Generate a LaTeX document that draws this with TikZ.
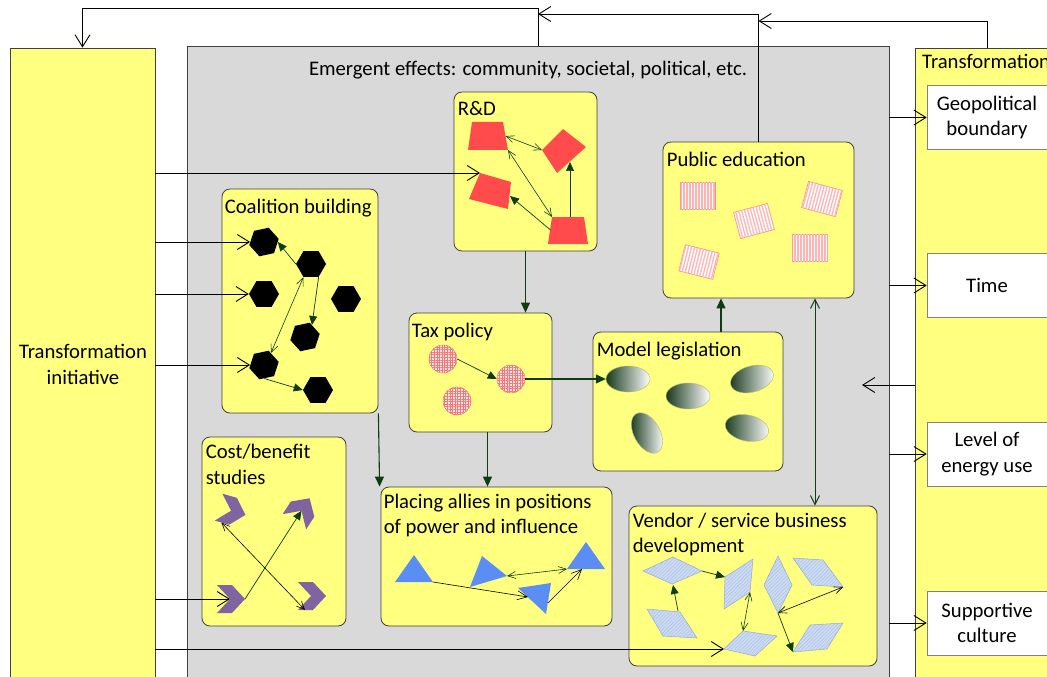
\documentclass[tikz,border=0pt]{standalone}
\usepackage{fontspec}
\setmainfont{Carlito}
\usetikzlibrary{arrows.meta,shapes.geometric,patterns.meta}

\definecolor{boxyellow}{HTML}{FFFF80}
\definecolor{panelgrey}{HTML}{D9D9D9}
\definecolor{edge}{HTML}{404040}
\definecolor{linkgreen}{HTML}{0E3D14}
\definecolor{rdred}{HTML}{FF4B4B}
\definecolor{chevpurple}{HTML}{8064A2}
\definecolor{triblue}{HTML}{5A8EF5}
\definecolor{rhombfill}{HTML}{CCDAF2}
\definecolor{rhombhatch}{HTML}{A9BFE6}
\definecolor{rhombedge}{HTML}{8FA8D6}
\definecolor{gridpink}{HTML}{FFE4E4}
\definecolor{gridred}{HTML}{F07878}
\definecolor{stripepink}{HTML}{FFB4B4}
\definecolor{stripeedge}{HTML}{FF8C8C}
\definecolor{ovaldark}{HTML}{17391C}
\definecolor{ovaledge}{HTML}{B8B870}

\newcommand{\labelfont}{\fontsize{20.7bp}{25.5bp}\selectfont}
\newcommand{\outfont}{\fontsize{20.7bp}{25.5bp}\selectfont}

\begin{document}
\begin{tikzpicture}[x=1bp,y=-1bp,
  column/.style={draw=edge, line width=0.8bp, fill=boxyellow, minimum width=145bp, minimum height=652bp, inner sep=0pt},
  panel/.style={draw=edge, line width=0.8bp, fill=panelgrey, minimum width=702bp, minimum height=654bp, inner sep=0pt},
  ibox/.style={draw=edge, line width=0.8bp, fill=boxyellow, rounded corners=8bp, inner sep=0pt},
  boxtitle/.style={anchor=north west, inner sep=0pt, align=left, font=\labelfont, execute at begin node=\strut},
  outcome/.style={draw=gray, line width=0.6bp, fill=white, minimum width=120bp, minimum height=64bp, align=center, font=\outfont, inner sep=0pt},
  bigopen/.style={draw=black, line width=0.9bp, -{Straight Barb[length=12bp,width=15bp]}},
  kopen/.style={draw=black, line width=0.6bp, -{Straight Barb[length=10bp,width=9bp]}},
  kboth/.style={draw=black, line width=0.6bp, {Straight Barb[length=8bp,width=7bp]}-{Straight Barb[length=8bp,width=7bp]}},
  gfill/.style={draw=linkgreen, line width=0.7bp, -{Triangle[length=9bp,width=8bp]}},
  gboth/.style={draw=linkgreen, line width=0.6bp, {Straight Barb[length=8bp,width=7bp]}-{Straight Barb[length=8bp,width=7bp]}},
  boxlink/.style={draw=linkgreen, line width=1.1bp, -{Triangle[length=10bp,width=9bp]}},
  boxboth/.style={draw=linkgreen, line width=1bp, {Straight Barb[length=9bp,width=9bp]}-{Straight Barb[length=9bp,width=9bp]}},
  hex/.style={regular polygon, regular polygon sides=6, minimum size=30bp, fill=black, inner sep=0pt},
  disc/.style={circle, minimum size=28bp, inner sep=0pt, draw=gridred, line width=0.5bp, fill=gridpink,
    postaction={pattern={Hatch[distance=2.6bp,line width=0.5bp]}, pattern color=gridred}},
  oval/.style={ellipse, minimum width=44bp, minimum height=26bp, inner sep=0pt, draw=ovaledge, line width=0.4bp,
    left color=ovaldark, right color=white},
  sheet/.style={rectangle, minimum width=35bp, minimum height=27bp, inner sep=0pt, draw=stripeedge, line width=0.7bp,
    fill=white, rotate=#1, postaction={pattern={Lines[angle=90+#1,distance=3bp,line width=1.3bp]}, pattern color=stripepink}},
  sheet/.default=0,
  tri/.style={fill=triblue},
  rhomb/.style={fill=rhombfill, draw=rhombedge, line width=0.5bp,
    postaction={pattern={Lines[angle=45,distance=2.5bp,line width=0.4bp]}, pattern color=rhombhatch}},
  chev/.pic={
    \fill[chevpurple] (-14,-14) -- (1,-14) -- (14,0) -- (1,14) -- (-14,14) -- (-1,0) -- cycle;
    \coordinate (-tip) at (14,0);
    \coordinate (-notch) at (-1,0);
    \coordinate (-foot) at (-7,14);
  }
]
\useasboundingbox (0,0) rectangle (1047,677);
\clip (0,0) rectangle (1047,677);
\fill[white] (0,0) rectangle (1047,677);

% ---- outer frame: initiative, emergent-effects panel, transformation column
\node[column] (init) at (82.5,374) {};
\node[panel] (grey) at (538,373) {};
\node[column] (trans) at (987.5,374) {};

\node[font=\labelfont, align=center, anchor=north, inner sep=0pt, execute at begin node=\strut]
  (inittext) at (83,344) {Transformation\\initiative};
\node[font=\labelfont, anchor=base, inner sep=0pt] (greytext) at (528,76)
  {Emergent effects: community, societal, political, etc.};
\node[font=\labelfont, anchor=base west, inner sep=0pt] (transtext) at (922,69) {Transformation};

\node[outcome] (geo) at (987,117.5) {Geopolitical\\boundary};
\node[outcome] (time) at (987,285.5) {Time};
\node[outcome] (energy) at (987,454) {Level of\\energy use};
\node[outcome] (culture) at (987,623) {Supportive\\culture};

% ---- activity boxes
\node[ibox, minimum width=143bp, minimum height=159bp] (rd) at (525.5,171.5) {};
\node[ibox, minimum width=156bp, minimum height=224bp] (coal) at (300,301) {};
\node[ibox, minimum width=143bp, minimum height=119bp] (tax) at (480.5,372.5) {};
\node[ibox, minimum width=190bp, minimum height=139bp] (legis) at (688,401.5) {};
\node[ibox, minimum width=191bp, minimum height=156bp] (pubed) at (758.5,220) {};
\node[ibox, minimum width=144bp, minimum height=189bp] (cost) at (274,531.5) {};
\node[ibox, minimum width=231bp, minimum height=139bp] (allies) at (496.5,556.5) {};
\node[ibox, minimum width=248bp, minimum height=160bp] (vendor) at (753,586) {};

\node[boxtitle] (rdT) at ([shift={(4,6)}]rd.north west) {R\&D};
\node[boxtitle] (coalT) at ([shift={(3,6.5)}]coal.north west) {Coalition building};
\node[boxtitle] (taxT) at ([shift={(3,6.5)}]tax.north west) {Tax policy};
\node[boxtitle] (legisT) at ([shift={(4,6.5)}]legis.north west) {Model legislation};
\node[boxtitle] (pubedT) at ([shift={(4,6.5)}]pubed.north west) {Public education};
\node[boxtitle] (costT) at ([shift={(4,7.5)}]cost.north west) {Cost/benefit\\studies};
\node[boxtitle] (alliesT) at ([shift={(3,7)}]allies.north west) {Placing allies in positions\\of power and influence};
\node[boxtitle] (vendorT) at ([shift={(4,7)}]vendor.north west) {Vendor / service business\\development};

% ---- R&D shapes
\fill[rdred] (472,122) -- (503,122) -- (508,150) coordinate (rdAse) -- (468,150) -- cycle;
\coordinate (rdAe) at (505.5,136);
\fill[rdred] (563,129) -- (586,147) -- (557,173) -- (542,150) coordinate (rdBw) -- cycle;
\coordinate (rdBs) at (570,162);
\fill[rdred] (480,173) coordinate (rdCnw) -- (511,182) -- (508,209) -- (469,199) -- cycle;
\coordinate (rdCe) at (510,196);
\fill[rdred] (552,217) coordinate (rdDnw) -- (584,217) -- (588,244) -- (548,244) -- cycle;
\coordinate (rdDn) at (570,217);
\coordinate (rdDw) at (550.5,230);
\draw[gboth] (rdAe) -- (rdBw);
\draw[gboth] (rdAse) -- (rdDnw);
\draw[gfill] (rdDw) -- (rdCe);
\draw[gfill] (rdDn) -- (rdBs);

% ---- coalition hexagons
\node[hex, shape border rotate=12] (h1) at (264,242) {};
\node[hex] (h2) at (311,264) {};
\node[hex] (h3) at (264,294) {};
\node[hex] (h4) at (346,299) {};
\node[hex, shape border rotate=12] (h5) at (305,337) {};
\node[hex, shape border rotate=12] (h6) at (264,365) {};
\node[hex] (h7) at (318,390) {};
\draw[gfill] (h2.west) -- (h1.east);
\draw[gboth] (h2.240) -- (h6.60);
\draw[gfill] (h2.-60) -- (h5.60);
\draw[gfill] (h6.south) -- (h7.west);

% ---- tax policy discs
\node[disc] (c1) at (443,359) {};
\node[disc] (c2) at (511,379) {};
\node[disc] (c3) at (457,401) {};
\draw[gfill] (c1.east) -- (c2.west);

% ---- model legislation ovals
\node[oval] (e1) at (628,379) {};
\node[oval] (e2) at (688,396) {};
\node[oval, rotate=16] (e3) at (752,379) {};
\node[oval, rotate=-12] (e4) at (747,428) {};
\node[oval, rotate=-61] (e5) at (647,433) {};
\draw[boxlink] (c2.east) -- (e1.west);

% ---- public education sheets
\node[sheet] (s1) at (698,196) {};
\node[sheet=15] (s2) at (754,221) {};
\node[sheet=-15] (s3) at (822,199) {};
\node[sheet] (s4) at (810,248) {};
\node[sheet=-14] (s5) at (699,262) {};

% ---- cost/benefit chevrons
\pic[rotate=-16] (ch1) at (232,511) {chev};
\pic[rotate=57] (ch2) at (302,510) {chev};
\pic (ch3) at (231,599) {chev};
\pic (ch4) at (312,596) {chev};
\draw[gfill] (ch3-tip) -- (ch2-notch);
\draw[kboth] (ch1-foot) -- (ch4-foot);

% ---- placing allies triangles
\fill[tri] (395,582) -- (433,582) coordinate (t1e) -- (414,555) -- cycle;
\fill[tri] (470,587) -- (507,576) coordinate (t2e) -- (482,556) -- cycle;
\fill[tri] (567,569) coordinate (t3w) -- (605,569) -- (586,542) -- cycle;
\coordinate (t3s) at (582,569);
\fill[tri] (518,588) -- (551,583) -- (546,614) -- cycle;
\coordinate (t4w) at (528,597);
\coordinate (t4e) at (548,603);
\draw[kopen] (t1e) -- (t4w);
\draw[gboth] (t2e) -- (t3w);
\draw[kopen] (t4e) -- (t3s);

% ---- vendor rhombi
\path[rhomb] (643,571) -- (673,557) -- (702,571) coordinate (d1e) -- (672,584) -- cycle;
\coordinate (d1s) at (673,585);
\path[rhomb] (725,577) coordinate (d2w) -- (753,559) -- (750,592) coordinate (d2s) -- (724,609) -- cycle;
\path[rhomb] (764,585) -- (778,556) -- (792,585) -- (778,613) coordinate (d3s) -- cycle;
\path[rhomb] (793,558) -- (823,560) -- (843,587) coordinate (d4e) -- (812,585) -- cycle;
\path[rhomb] (647,609) -- (680,612) -- (697,638) -- (663,636) -- cycle;
\coordinate (d5n) at (678,611);
\path[rhomb] (724,649) coordinate (d6w) -- (743,631) coordinate (d6n) -- (777,636) -- (755,656) -- cycle;
\path[rhomb] (793,652) coordinate (d7w) -- (810,625) -- (843,623) -- (827,649) -- cycle;
\draw[gfill] (d1e) -- (d2w);
\draw[gfill] (d5n) -- (d1s);
\draw[gboth] (d2s) -- (d6n);
\draw[gfill] (d3s) -- (d7w);
\draw[kboth] (d3s) -- (d4e);

% ---- links between activity boxes
\coordinate (taxout) at ([xshift=7bp]tax.south);
\coordinate (legisout) at ([xshift=33bp]legis.north);
\coordinate (pvx) at (815,400);
\draw[boxlink] (rd.south) -- (rd.south |- tax.north);
\draw[boxlink] (taxout) -- (taxout |- allies.north);
\draw[boxlink] (coal.south east) -- ([xshift=-1bp]allies.north west);
\draw[boxlink] (legisout) -- (legisout |- pubed.south);
\draw[boxboth] (pubed.south -| pvx) -- (vendor.north -| pvx);

% ---- initiative feeding the activities
\draw[bigopen] (init.east |- rdCnw) -- (rdCnw);
\draw[bigopen] (init.east |- h1.west) -- (h1.west);
\draw[bigopen] (init.east |- h3.west) -- (h3.west);
\draw[bigopen] (init.east |- h6.west) -- (h6.west);
\draw[bigopen] (init.east |- ch3-notch) -- (ch3-notch);
\draw[bigopen] (init.east |- d6w) -- (d6w);

% ---- effects reaching the transformation column
\draw[bigopen] (grey.east |- geo.west) -- (geo.west);
\draw[bigopen] (grey.east |- time.west) -- (time.west);
\draw[bigopen] (grey.east |- energy.west) -- (energy.west);
\draw[bigopen] (grey.east |- culture.west) -- (culture.west);
\coordinate (fbIn) at (862,385);
\draw[bigopen] (trans.west |- fbIn) -- (fbIn);

% ---- feedback loops over the top
\coordinate (topA) at (0,8);
\coordinate (topB) at (0,14);
\coordinate (topC) at (0,21);
\draw[bigopen] (grey.north) -- (grey.north |- topA) -| (init.north);
\draw[bigopen] (pubed.north) |- (grey.north |- topB);
\draw[bigopen] (trans.north) |- (pubed.north |- topC);
\end{tikzpicture}
\end{document}
